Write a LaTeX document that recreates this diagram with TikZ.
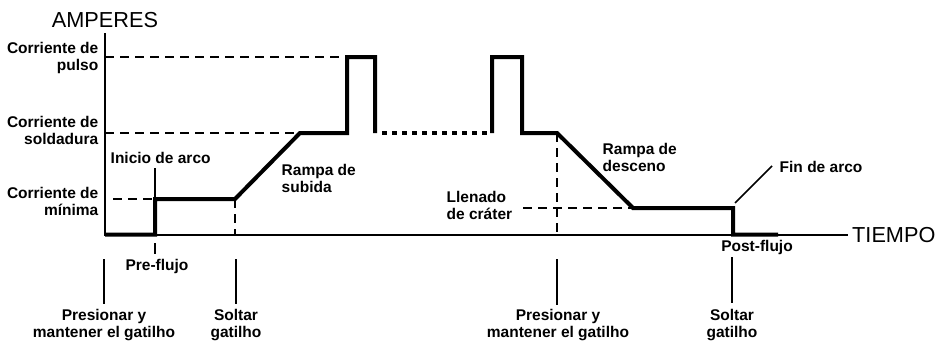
\documentclass[tikz,border=0pt]{standalone}
\usepackage{fontspec}
\setmainfont{Liberation Sans}
\begin{document}
\begin{tikzpicture}[x=1pt,y=-1pt,
  lbl/.style={font=\fontsize{15.5}{17}\selectfont\bfseries, inner sep=0pt, align=center},
  lblr/.style={lbl, align=right, anchor=east},
  lbll/.style={lbl, align=left, anchor=west},
  big/.style={font=\fontsize{21.7}{24}\selectfont, inner sep=0pt},
  curr/.style={line width=4pt, line join=miter, line cap=butt},
  dots/.style={line width=4pt, dash pattern=on 5pt off 5pt},
  guide/.style={line width=1.6pt, dash pattern=on 9pt off 6pt},
  axisline/.style={line width=1.4pt},
  tickline/.style={line width=2pt},
  thinline/.style={line width=1.5pt}]
\useasboundingbox (0,0) rectangle (936,340);

% axes
\coordinate (o) at (105,235);
\coordinate (ytop) at (105,33);
\coordinate (xend) at (848,235);
\draw[axisline] (ytop) -- (o) -- (xend);
\node[big] (amp) at (105,20) {AMPERES};
\node[big, anchor=west] (tiempo) at (852,235) {TIEMPO};

% current trace
\coordinate (a0) at (105,234.5);
\coordinate (a1) at (155,234.5);
\coordinate (a2) at (155,199);
\coordinate (a3) at (235,199);
\coordinate (a4) at (300,133);
\coordinate (a5) at (347,133);
\coordinate (a6) at (347,57);
\coordinate (a7) at (375,57);
\coordinate (a8) at (375,133);
\coordinate (d0) at (382,133);
\coordinate (d1) at (490,133);
\coordinate (b0) at (492,133);
\coordinate (b1) at (492,57);
\coordinate (b2) at (522,57);
\coordinate (b3) at (522,133);
\coordinate (b4) at (557,133);
\coordinate (b5) at (633,208);
\coordinate (b6) at (733,208);
\coordinate (b7) at (733,234.5);
\coordinate (b8) at (778,234.5);
\draw[curr] (a0) -- (a1) -- (a2) -- (a3) -- (a4) -- (a5) -- (a6) -- (a7) -- (a8);
\draw[dots] (d0) -- (d1);
\draw[curr] (b0) -- (b1) -- (b2) -- (b3) -- (b4) -- (b5) -- (b6) -- (b7) -- (b8);

% dashed guides
\coordinate (gp) at (105,57);
\coordinate (gw) at (105,133);
\coordinate (gm) at (113,199);
\coordinate (gc) at (523,208);
\coordinate (v1) at (235,235);
\coordinate (v2) at (557,235);
\draw[guide] (gp) -- (a6);
\draw[guide] (gw) -- (a4);
\draw[guide] (gm) -- (a2);
\draw[guide] (gc) -- (b5);
\draw[guide] (a3) -- (v1);
\draw[guide] (b4) -- (v2);

% left labels
\node[lblr] (lp) at (98.5,58) {Corriente de\\pulso};
\node[lblr] (lw) at (98.5,130) {Corriente de\\soldadura};
\node[lblr] (lm) at (98.5,201) {Corriente de\\mínima};

% annotations
\coordinate (ia) at (155,168);
\draw[thinline] (ia) -- (a2);
\node[lbll] (inicio) at (110.5,158) {Inicio de arco};
\node[lbll] (rs) at (281.5,178) {Rampa de\\subida};
\node[lbll] (ll) at (446.5,205) {Llenado\\de cráter};
\node[lbll] (rd) at (602.5,157) {Rampa de\\desceno};
\coordinate (fa0) at (735,203);
\coordinate (fa1) at (772,166);
\draw[thinline] (fa0) -- (fa1);
\node[lbll] (fin) at (779.5,167) {Fin de arco};
\node[lbl] (post) at (757,247) {Post-flujo};

% below-axis marks
\coordinate (t0) at (155,243);
\coordinate (t1) at (155,254);
\draw[tickline] (t0) -- (t1);
\node[lbl] (pre) at (157,266) {Pre-flujo};

\coordinate (m1a) at (104,259);
\coordinate (m1b) at (104,304);
\coordinate (m2a) at (236,259);
\coordinate (m2b) at (236,304);
\coordinate (m3a) at (557,259);
\coordinate (m3b) at (557,305);
\coordinate (m4a) at (732,257);
\coordinate (m4b) at (732,303);
\draw[tickline] (m1a) -- (m1b);
\draw[tickline] (m2a) -- (m2b);
\draw[tickline] (m3a) -- (m3b);
\draw[tickline] (m4a) -- (m4b);
\node[lbl] (pr1) at (104,325.5) {Presionar y\\mantener el gatilho};
\node[lbl] (so1) at (236,325.5) {Soltar\\gatilho};
\node[lbl] (pr2) at (558,325.5) {Presionar y\\mantener el gatilho};
\node[lbl] (so2) at (732,325.5) {Soltar\\gatilho};
\end{tikzpicture}
\end{document}
